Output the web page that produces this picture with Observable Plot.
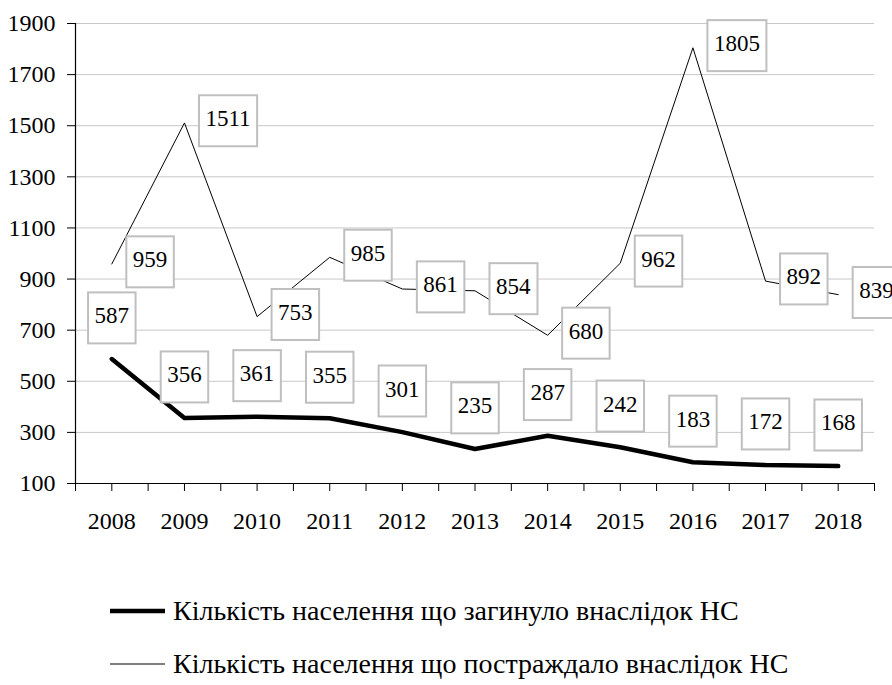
<!DOCTYPE html>
<html>
<head>
<meta charset="utf-8">
<script src="https://cdn.jsdelivr.net/npm/d3@7"></script>
<script src="https://cdn.jsdelivr.net/npm/@observablehq/plot@0.6"></script>
<style>
  html, body { margin: 0; padding: 0; background: #fff; }
  body { width: 892px; height: 685px; overflow: hidden; font-family: "Liberation Serif", "Times New Roman", Times, serif; }
</style>
</head>
<body>
<div id="chart"></div>
<div id="key"></div>
<script>
// ---- data ----
const years = [2008, 2009, 2010, 2011, 2012, 2013, 2014, 2015, 2016, 2017, 2018];
const killed = [587, 356, 361, 355, 301, 235, 287, 242, 183, 172, 168];
const injured = [959, 1511, 753, 985, 861, 854, 680, 962, 1805, 892, 839];
const yTicks = [100, 300, 500, 700, 900, 1100, 1300, 1500, 1700, 1900];
const seriesNames = [
  "Кількість населення що загинуло внаслідок НС",
  "Кількість населення що постраждало внаслідок НС"
];

const FONT = '"Liberation Serif", "Times New Roman", Times, serif';

const rows = years.map((year, i) => ({year, killed: killed[i], injured: injured[i]}));
const xTickPositions = years.flatMap(y => [y - 0.5, y]).concat([years[years.length - 1] + 0.5]);
const xDomain = [years[0] - 0.5, years[years.length - 1] + 0.5];

const chart = Plot.plot({
  width: 892,
  height: 545,
  marginLeft: 75,
  marginRight: 18,
  marginTop: 23,
  marginBottom: 62,
  style: {fontFamily: FONT, overflow: "visible", display: "block", color: "#000"},
  x: {type: "linear", domain: xDomain},
  y: {domain: [yTicks[0], yTicks[yTicks.length - 1]]},
  marks: [
    Plot.gridY(yTicks.slice(1), {stroke: "#c8c8c8", strokeOpacity: 1, strokeWidth: 1}),
    Plot.lineY(rows, {x: "year", y: "injured", stroke: "#000", strokeWidth: 1}),
    Plot.lineY(rows, {x: "year", y: "killed", stroke: "#000", strokeWidth: 4.5, strokeLinejoin: "round", strokeLinecap: "round"}),
    Plot.text(rows, {x: "year", y: "injured", text: d => String(d.injured), textAnchor: "start", dx: 21, dy: -4, fontSize: 23, fontFamily: FONT, fill: "#000"}),
    Plot.text(rows, {x: "year", y: "killed", text: d => String(d.killed), textAnchor: "middle", dy: -43, fontSize: 23, fontFamily: FONT, fill: "#000"}),
    Plot.ruleY([yTicks[0]], {stroke: "#000", strokeWidth: 1.2}),
    Plot.ruleX([xDomain[0]], {stroke: "#000", strokeWidth: 1.2}),
    Plot.axisY(yTicks, {tickSize: 8, tickPadding: 12, fontSize: 24, fontFamily: FONT, tickFormat: d => String(d), label: null, stroke: "#000"}),
    Plot.axisX(xTickPositions, {tickSize: 8, tickFormat: () => "", label: null, stroke: "#000"}),
    Plot.axisX(years, {tickSize: 0, tickPadding: 28, fontSize: 24, fontFamily: FONT, tickFormat: d => String(d), label: null})
  ]
});
document.getElementById("chart").appendChild(chart);

// boxes behind data labels
const svgNS = "http://www.w3.org/2000/svg";
chart.querySelectorAll('g[aria-label="text"] text').forEach(t => {
  const bb = t.getBBox();
  const r = document.createElementNS(svgNS, "rect");
  const h = 51;
  const cy = bb.y + bb.height / 2 + 2;
  r.setAttribute("x", bb.x - 6.5);
  r.setAttribute("y", cy - h / 2);
  r.setAttribute("width", bb.width + 13);
  r.setAttribute("height", h);
  r.setAttribute("fill", "#fff");
  r.setAttribute("stroke", "#bfbfbf");
  r.setAttribute("stroke-width", 2);
  const tr = t.getAttribute("transform");
  if (tr) r.setAttribute("transform", tr);
  t.parentNode.insertBefore(r, t);
});

// key below the chart
const key = document.getElementById("key");
key.style.position = "relative";
key.style.height = "140px";
const widths = [4.5, 1];
const centers = [66, 119];
seriesNames.forEach((name, i) => {
  const row = document.createElement("div");
  row.style.position = "absolute";
  row.style.left = "110px";
  row.style.top = (centers[i] - 20) + "px";
  row.style.height = "40px";
  row.style.display = "flex";
  row.style.alignItems = "center";
  row.style.whiteSpace = "nowrap";
  row.style.fontFamily = FONT;
  row.style.fontSize = "28px";
  row.style.color = "#000";
  const s = document.createElementNS(svgNS, "svg");
  s.setAttribute("width", 55);
  s.setAttribute("height", 10);
  s.style.marginRight = "8px";
  const ln = document.createElementNS(svgNS, "line");
  ln.setAttribute("x1", 0); ln.setAttribute("x2", 55);
  ln.setAttribute("y1", 5); ln.setAttribute("y2", 5);
  ln.setAttribute("stroke", "#000");
  ln.setAttribute("stroke-width", widths[i]);
  ln.setAttribute("stroke-linecap", "round");
  s.appendChild(ln);
  const span = document.createElement("span");
  span.textContent = name;
  row.appendChild(s);
  row.appendChild(span);
  key.appendChild(row);
});
</script>
</body>
</html>
